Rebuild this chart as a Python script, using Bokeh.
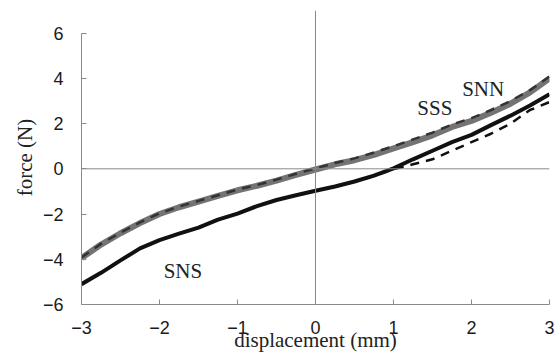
from bokeh.plotting import figure
from bokeh.models import Range1d, Span, Label, FixedTicker
from bokeh.embed import file_html
from bokeh.resources import INLINE

# ---- data ----
x = [-3.0, -2.75, -2.5, -2.25, -2.0, -1.75, -1.5, -1.25, -1.0, -0.75, -0.5, -0.25,
     0.0, 0.25, 0.5, 0.75, 1.0, 1.25, 1.5, 1.75, 2.0, 2.25, 2.5, 2.75, 3.0]

sss = [-3.95, -3.35, -2.85, -2.4, -2.0, -1.7, -1.45, -1.2, -0.95, -0.75, -0.52, -0.27,
       -0.03, 0.2, 0.38, 0.62, 0.9, 1.18, 1.48, 1.85, 2.12, 2.48, 2.88, 3.38, 4.0]

snn = [-3.92, -3.32, -2.82, -2.37, -1.97, -1.67, -1.42, -1.17, -0.92, -0.72, -0.48, -0.22,
       0.02, 0.26, 0.46, 0.72, 1.0, 1.3, 1.6, 1.96, 2.24, 2.6, 3.0, 3.48, 4.08]

sns = [-5.1, -4.6, -4.05, -3.52, -3.15, -2.87, -2.6, -2.25, -1.98, -1.65, -1.38, -1.17,
       -0.97, -0.78, -0.56, -0.3, 0.02, 0.42, 0.8, 1.18, 1.5, 1.93, 2.35, 2.8, 3.3]

sns_b = [-5.1, -4.6, -4.05, -3.52, -3.15, -2.87, -2.6, -2.25, -1.98, -1.65, -1.38, -1.17,
         -0.97, -0.78, -0.56, -0.32, -0.02, 0.2, 0.42, 0.8, 1.18, 1.55, 2.0, 2.6, 2.95]

x_ticks = [-3, -2, -1, 0, 1, 2, 3]
x_tick_labels = ["−3", "−2", "−1", "0", "1", "2", "3"]
y_ticks = [-6, -4, -2, 0, 2, 4, 6]
y_tick_labels = ["−6", "−4", "−2", "0", "2", "4", "6"]

series_names = ["SNS", "SSS", "SNN"]

p = figure(width=558, height=355, output_backend="svg", toolbar_location=None,
           x_range=Range1d(-3, 3), y_range=Range1d(-6, 7.0),
           min_border_left=81, min_border_right=9, min_border_top=10, min_border_bottom=51)
p.outline_line_color = None
p.xgrid.visible = False
p.ygrid.visible = False
p.background_fill_color = "white"

axis_col = "#8a8a8a"
for ax in (p.xaxis[0], p.yaxis[0]):
    ax.axis_line_color = axis_col
    ax.major_tick_line_color = axis_col
    ax.major_tick_in = 5
    ax.major_tick_out = 0
    ax.minor_tick_line_color = None
    ax.major_label_text_font = "Liberation Sans"
    ax.major_label_text_font_size = "18px"
    ax.major_label_text_color = "#1a1a1a"
    ax.axis_label_text_font = "Liberation Serif"
    ax.axis_label_text_font_size = "21px"
    ax.axis_label_text_font_style = "normal"
    ax.axis_label_text_color = "#222222"

p.xaxis[0].ticker = FixedTicker(ticks=x_ticks)
p.xaxis[0].major_label_overrides = dict(zip(x_ticks, x_tick_labels))
p.yaxis[0].ticker = FixedTicker(ticks=y_ticks)
p.yaxis[0].major_label_overrides = dict(zip(y_ticks, y_tick_labels))
p.yaxis[0].bounds = (-6, 6)
p.xaxis[0].bounds = (-3, 3)

p.xaxis[0].axis_label = "displacement (mm)"
p.yaxis[0].axis_label = "force (N)"
p.xaxis[0].major_label_standoff = 16
p.yaxis[0].major_label_standoff = 18
p.xaxis[0].axis_label_standoff = -9
p.yaxis[0].axis_label_standoff = 3

p.add_layout(Span(location=0, dimension="height", line_color=axis_col, line_width=1))
p.add_layout(Span(location=0, dimension="width", line_color=axis_col, line_width=1))

# curves
p.line(x, sss, line_color="#747474", line_width=6)
p.line(x, snn, line_color="#333333", line_width=2.5, line_dash="9 7")
p.line(x, sns, line_color="#111111", line_width=4)
p.line(x, sns_b, line_color="#111111", line_width=2.5, line_dash="9 7")

label_pos = [(-1.7, -4.5), (1.53, 2.7), (2.15, 3.55)]
for name, (lx, ly) in zip(series_names, label_pos):
    p.add_layout(Label(x=lx, y=ly, text=name, text_font="Liberation Serif",
                       text_font_size="21px", text_color="#222222",
                       text_align="center", text_baseline="middle"))

open("out.html", "w").write(file_html(p, INLINE))
